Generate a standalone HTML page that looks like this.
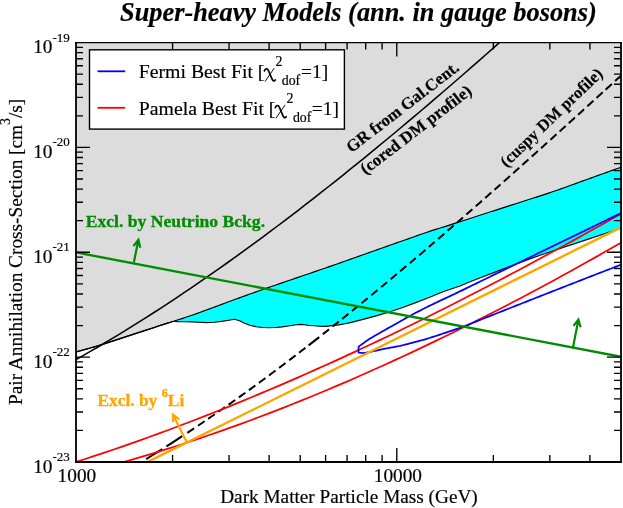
<!DOCTYPE html>
<html><head><meta charset="utf-8"><title>Super-heavy Models</title>
<style>
html,body{margin:0;padding:0;background:#fff;}
body{width:623px;height:508px;overflow:hidden;font-family:"Liberation Serif",serif;}
svg{display:block;will-change:transform;opacity:0.9999;}
.s{font-family:"Liberation Serif",serif;}
.t{stroke:#000;stroke-width:0.18px;}
</style></head><body>
<svg width="623" height="508" viewBox="0 0 623 508">
<rect width="623" height="508" fill="#fff"/>
<defs><clipPath id="c"><rect x="76.0" y="42.5" width="545.0" height="419.5"/></clipPath></defs>
<g clip-path="url(#c)">
<path d="M76.00,42.50 L621.00,42.50 L622.00,166.85 L618.94,167.94 L615.89,169.04 L612.83,170.15 L609.78,171.25 L606.72,172.35 L603.66,173.45 L600.61,174.55 L597.55,175.65 L594.50,176.74 L591.44,177.84 L588.39,178.94 L585.33,180.04 L582.27,181.15 L579.22,182.26 L576.16,183.36 L573.11,184.47 L570.05,185.57 L566.99,186.67 L563.94,187.76 L560.88,188.85 L557.83,189.92 L554.77,190.99 L551.72,192.05 L548.66,193.09 L545.60,194.11 L542.55,195.12 L539.49,196.10 L536.44,197.08 L533.38,198.05 L530.32,199.02 L527.27,199.99 L524.21,200.97 L521.16,201.96 L518.10,202.94 L515.04,203.93 L511.99,204.92 L508.93,205.90 L505.88,206.89 L502.82,207.88 L499.77,208.86 L496.71,209.85 L493.65,210.83 L490.60,211.82 L487.54,212.80 L484.49,213.79 L481.43,214.78 L478.37,215.76 L475.32,216.75 L472.26,217.73 L469.21,218.72 L466.15,219.70 L463.09,220.69 L460.04,221.67 L456.98,222.66 L453.93,223.64 L450.87,224.62 L447.82,225.61 L444.76,226.58 L441.70,227.55 L438.65,228.47 L435.59,229.34 L432.54,230.35 L429.48,231.39 L426.42,232.45 L423.37,233.50 L420.31,234.57 L417.26,235.64 L414.20,236.71 L411.15,237.78 L408.09,238.86 L405.03,239.93 L401.98,241.01 L398.92,242.08 L395.87,243.16 L392.81,244.24 L389.75,245.32 L386.70,246.40 L383.64,247.48 L380.59,248.56 L377.53,249.64 L374.47,250.72 L371.42,251.80 L368.36,252.87 L365.31,253.95 L362.25,255.03 L359.20,256.11 L356.14,257.19 L353.08,258.28 L350.03,259.37 L346.97,260.46 L343.92,261.56 L340.86,262.64 L337.80,263.72 L334.75,264.79 L331.69,265.85 L328.64,266.91 L325.58,267.97 L322.53,269.01 L319.47,270.06 L316.41,271.11 L313.36,272.15 L310.30,273.20 L307.25,274.24 L304.19,275.28 L301.13,276.33 L298.08,277.37 L295.02,278.41 L291.97,279.45 L288.91,280.50 L285.85,281.54 L282.80,282.59 L279.74,283.63 L276.69,284.68 L273.63,285.74 L270.58,286.79 L267.52,287.85 L264.46,288.91 L261.41,289.98 L258.35,291.04 L255.30,292.12 L252.24,293.20 L249.18,294.29 L246.13,295.39 L243.07,296.49 L240.02,297.59 L236.96,298.71 L233.91,299.83 L230.85,300.95 L227.79,302.08 L224.74,303.22 L221.68,304.35 L218.63,305.49 L215.57,306.62 L212.51,307.75 L209.46,308.88 L206.40,310.01 L203.35,311.13 L200.29,312.24 L197.23,313.34 L194.18,314.43 L191.12,315.50 L188.07,316.55 L185.01,317.57 L181.96,318.58 L178.90,319.57 L175.84,320.54 L172.79,321.50 L169.73,322.45 L166.68,323.40 L163.62,324.35 L160.56,325.32 L157.51,326.32 L154.45,327.43 L151.40,328.44 L148.34,329.43 L145.28,330.42 L142.23,331.41 L139.17,332.40 L136.12,333.39 L133.06,334.37 L130.01,335.36 L126.95,336.35 L123.89,337.34 L120.84,338.33 L117.78,339.33 L114.73,340.34 L111.67,341.36 L108.61,342.38 L105.56,343.39 L102.50,344.37 L99.45,345.32 L96.39,346.24 L93.34,347.13 L90.28,348.00 L87.22,348.85 L84.17,349.70 L81.11,350.55 L78.06,351.40 L75.00,352.30 Z" fill="#dcdcdc"/>
<path d="M173.60,321.25 L175.84,320.54 L178.90,319.57 L181.96,318.58 L185.01,317.57 L188.07,316.55 L191.12,315.50 L194.18,314.43 L197.23,313.34 L200.29,312.24 L203.35,311.13 L206.40,310.01 L209.46,308.88 L212.51,307.75 L215.57,306.62 L218.63,305.49 L221.68,304.35 L224.74,303.22 L227.79,302.08 L230.85,300.95 L233.91,299.83 L236.96,298.71 L240.02,297.59 L243.07,296.49 L246.13,295.39 L249.18,294.29 L252.24,293.20 L255.30,292.12 L258.35,291.04 L261.41,289.98 L264.46,288.91 L267.52,287.85 L270.58,286.79 L273.63,285.74 L276.69,284.68 L279.74,283.63 L282.80,282.59 L285.85,281.54 L288.91,280.50 L291.97,279.45 L295.02,278.41 L298.08,277.37 L301.13,276.33 L304.19,275.28 L307.25,274.24 L310.30,273.20 L313.36,272.15 L316.41,271.11 L319.47,270.06 L322.53,269.01 L325.58,267.97 L328.64,266.91 L331.69,265.85 L334.75,264.79 L337.80,263.72 L340.86,262.64 L343.92,261.56 L346.97,260.46 L350.03,259.37 L353.08,258.28 L356.14,257.19 L359.20,256.11 L362.25,255.03 L365.31,253.95 L368.36,252.87 L371.42,251.80 L374.47,250.72 L377.53,249.64 L380.59,248.56 L383.64,247.48 L386.70,246.40 L389.75,245.32 L392.81,244.24 L395.87,243.16 L398.92,242.08 L401.98,241.01 L405.03,239.93 L408.09,238.86 L411.15,237.78 L414.20,236.71 L417.26,235.64 L420.31,234.57 L423.37,233.50 L426.42,232.45 L429.48,231.39 L432.54,230.35 L435.59,229.34 L438.65,228.47 L441.70,227.55 L444.76,226.58 L447.82,225.61 L450.87,224.62 L453.93,223.64 L456.98,222.66 L460.04,221.67 L463.09,220.69 L466.15,219.70 L469.21,218.72 L472.26,217.73 L475.32,216.75 L478.37,215.76 L481.43,214.78 L484.49,213.79 L487.54,212.80 L490.60,211.82 L493.65,210.83 L496.71,209.85 L499.77,208.86 L502.82,207.88 L505.88,206.89 L508.93,205.90 L511.99,204.92 L515.04,203.93 L518.10,202.94 L521.16,201.96 L524.21,200.97 L527.27,199.99 L530.32,199.02 L533.38,198.05 L536.44,197.08 L539.49,196.10 L542.55,195.12 L545.60,194.11 L548.66,193.09 L551.72,192.05 L554.77,190.99 L557.83,189.92 L560.88,188.85 L563.94,187.76 L566.99,186.67 L570.05,185.57 L573.11,184.47 L576.16,183.36 L579.22,182.26 L582.27,181.15 L585.33,180.04 L588.39,178.94 L591.44,177.84 L594.50,176.74 L597.55,175.65 L600.61,174.55 L603.66,173.45 L606.72,172.35 L609.78,171.25 L612.83,170.15 L615.89,169.04 L618.94,167.94 L622.00,166.85 L621.00,228.20 L587.50,239.40 L558.60,249.00 L543.00,254.30 L529.70,258.90 L500.80,269.90 L471.90,281.00 L460.00,286.00 L443.00,291.80 L428.40,297.80 L415.00,302.90 L402.70,307.50 L390.00,311.80 L377.00,315.60 L364.00,319.10 L351.40,322.40 L345.00,323.70 L338.50,324.90 L332.00,325.60 L325.70,326.40 L320.00,326.20 L314.00,325.80 L308.90,325.50 L304.50,324.80 L300.00,324.40 L294.50,325.00 L288.40,326.00 L282.00,326.90 L275.60,327.50 L269.00,327.70 L262.70,327.50 L256.00,326.70 L249.90,325.20 L244.50,323.20 L239.60,320.80 L234.50,319.30 L229.00,320.20 L221.60,321.40 L214.00,322.20 L206.20,322.60 L199.00,322.30 L192.00,321.90 L185.70,321.70 L178.00,321.60 L173.60,321.25 Z" fill="#00ffff"/>
<path d="M75.00,352.30 L78.06,351.40 L81.11,350.55 L84.17,349.70 L87.22,348.85 L90.28,348.00 L93.34,347.13 L96.39,346.24 L99.45,345.32 L102.50,344.37 L105.56,343.39 L108.61,342.38 L111.67,341.36 L114.73,340.34 L117.78,339.33 L120.84,338.33 L123.89,337.34 L126.95,336.35 L130.01,335.36 L133.06,334.37 L136.12,333.39 L139.17,332.40 L142.23,331.41 L145.28,330.42 L148.34,329.43 L151.40,328.44 L154.45,327.43 L157.51,326.32 L160.56,325.32 L163.62,324.35 L166.68,323.40 L169.73,322.45 L172.79,321.50 L175.84,320.54 L178.90,319.57 L181.96,318.58 L185.01,317.57 L188.07,316.55 L191.12,315.50 L194.18,314.43 L197.23,313.34 L200.29,312.24 L203.35,311.13 L206.40,310.01 L209.46,308.88 L212.51,307.75 L215.57,306.62 L218.63,305.49 L221.68,304.35 L224.74,303.22 L227.79,302.08 L230.85,300.95 L233.91,299.83 L236.96,298.71 L240.02,297.59 L243.07,296.49 L246.13,295.39 L249.18,294.29 L252.24,293.20 L255.30,292.12 L258.35,291.04 L261.41,289.98 L264.46,288.91 L267.52,287.85 L270.58,286.79 L273.63,285.74 L276.69,284.68 L279.74,283.63 L282.80,282.59 L285.85,281.54 L288.91,280.50 L291.97,279.45 L295.02,278.41 L298.08,277.37 L301.13,276.33 L304.19,275.28 L307.25,274.24 L310.30,273.20 L313.36,272.15 L316.41,271.11 L319.47,270.06 L322.53,269.01 L325.58,267.97 L328.64,266.91 L331.69,265.85 L334.75,264.79 L337.80,263.72 L340.86,262.64 L343.92,261.56 L346.97,260.46 L350.03,259.37 L353.08,258.28 L356.14,257.19 L359.20,256.11 L362.25,255.03 L365.31,253.95 L368.36,252.87 L371.42,251.80 L374.47,250.72 L377.53,249.64 L380.59,248.56 L383.64,247.48 L386.70,246.40 L389.75,245.32 L392.81,244.24 L395.87,243.16 L398.92,242.08 L401.98,241.01 L405.03,239.93 L408.09,238.86 L411.15,237.78 L414.20,236.71 L417.26,235.64 L420.31,234.57 L423.37,233.50 L426.42,232.45 L429.48,231.39 L432.54,230.35 L435.59,229.34 L438.65,228.47 L441.70,227.55 L444.76,226.58 L447.82,225.61 L450.87,224.62 L453.93,223.64 L456.98,222.66 L460.04,221.67 L463.09,220.69 L466.15,219.70 L469.21,218.72 L472.26,217.73 L475.32,216.75 L478.37,215.76 L481.43,214.78 L484.49,213.79 L487.54,212.80 L490.60,211.82 L493.65,210.83 L496.71,209.85 L499.77,208.86 L502.82,207.88 L505.88,206.89 L508.93,205.90 L511.99,204.92 L515.04,203.93 L518.10,202.94 L521.16,201.96 L524.21,200.97 L527.27,199.99 L530.32,199.02 L533.38,198.05 L536.44,197.08 L539.49,196.10 L542.55,195.12 L545.60,194.11 L548.66,193.09 L551.72,192.05 L554.77,190.99 L557.83,189.92 L560.88,188.85 L563.94,187.76 L566.99,186.67 L570.05,185.57 L573.11,184.47 L576.16,183.36 L579.22,182.26 L582.27,181.15 L585.33,180.04 L588.39,178.94 L591.44,177.84 L594.50,176.74 L597.55,175.65 L600.61,174.55 L603.66,173.45 L606.72,172.35 L609.78,171.25 L612.83,170.15 L615.89,169.04 L618.94,167.94 L622.00,166.85" fill="none" stroke="#000" stroke-width="1.15"/>
<path d="M173.60,321.25 L178.00,321.60 L185.70,321.70 L192.00,321.90 L199.00,322.30 L206.20,322.60 L214.00,322.20 L221.60,321.40 L229.00,320.20 L234.50,319.30 L239.60,320.80 L244.50,323.20 L249.90,325.20 L256.00,326.70 L262.70,327.50 L269.00,327.70 L275.60,327.50 L282.00,326.90 L288.40,326.00 L294.50,325.00 L300.00,324.40 L304.50,324.80 L308.90,325.50 L314.00,325.80 L320.00,326.20 L325.70,326.40 L332.00,325.60 L338.50,324.90 L345.00,323.70 L351.40,322.40 L364.00,319.10 L377.00,315.60 L390.00,311.80 L402.70,307.50 L415.00,302.90 L428.40,297.80 L443.00,291.80 L460.00,286.00 L471.90,281.00 L500.80,269.90 L529.70,258.90 L543.00,254.30 L558.60,249.00 L587.50,239.40 L621.00,228.20" fill="none" stroke="#000" stroke-width="1.15" stroke-linejoin="round"/>
<path d="M75.00,360.16 L82.22,356.08 L89.44,351.94 L96.66,347.75 L103.88,343.50 L111.10,339.20 L118.32,334.84 L125.54,330.42 L132.76,325.95 L139.98,321.43 L147.20,316.86 L154.42,312.23 L161.64,307.55 L168.86,302.83 L176.08,298.05 L183.31,293.22 L190.53,288.34 L197.75,283.42 L204.97,278.45 L212.19,273.43 L219.41,268.37 L226.63,263.25 L233.85,258.10 L241.07,252.90 L248.29,247.65 L255.51,242.37 L262.73,237.04 L269.95,231.66 L277.17,226.25 L284.39,220.80 L291.61,215.30 L298.83,209.77 L306.05,204.19 L313.27,198.58 L320.49,192.93 L327.71,187.25 L334.93,181.52 L342.15,175.77 L349.37,169.97 L356.59,164.14 L363.81,158.28 L371.03,152.38 L378.25,146.45 L385.47,140.49 L392.69,134.50 L399.92,128.48 L407.14,122.42 L414.36,116.34 L421.58,110.22 L428.80,104.08 L436.02,97.91 L443.24,91.72 L450.46,85.49 L457.68,79.24 L464.90,72.97 L472.12,66.67 L479.34,60.34 L486.56,54.00 L493.78,47.63 L501.00,41.23" fill="none" stroke="#000" stroke-width="1.55"/>
<path d="M75.00,352.30 L78.06,351.40 L81.11,350.55 L84.17,349.70 L87.22,348.85 L90.28,348.00 L93.34,347.13 L96.39,346.24 L99.45,345.32 L102.50,344.37 L105.56,343.39 L108.61,342.38 L111.67,341.36 L114.73,340.34 L117.78,339.33 L120.84,338.33 L123.89,337.34 L126.95,336.35 L130.01,335.36 L133.06,334.37 L136.12,333.39 L139.17,332.40 L142.23,331.41 L145.28,330.42 L148.34,329.43 L151.40,328.44 L154.45,327.43 L157.51,326.32 L160.56,325.32 L163.62,324.35 L166.68,323.40 L169.73,322.45 L172.79,321.50" fill="none" stroke="#000" stroke-width="1.2"/>
<path d="M146.20,459.08 L151.57,455.76 L156.93,452.42 L162.30,449.04 M166.40,446.43 L171.67,443.06 L176.93,439.65 L182.20,436.21 M187.30,432.86 L189.57,431.36 L191.83,429.85 L194.10,428.34 M198.00,425.72 L200.20,424.24 L202.40,422.75 L204.60,421.26 M208.20,418.81 L210.40,417.30 L212.60,415.79 L214.80,414.28 M218.40,411.79 L220.60,410.26 L222.80,408.72 L225.00,407.19 M228.60,404.66 L230.80,403.11 L233.00,401.55 L235.20,399.99 M238.80,397.43 L241.00,395.85 L243.20,394.27 L245.40,392.69 M248.90,390.17 L251.07,388.60 L253.23,387.02 L255.40,385.44 M258.90,382.88 L261.07,381.29 L263.23,379.70 L265.40,378.10 M269.00,375.43 L271.17,373.82 L273.33,372.21 L275.50,370.59 M279.10,367.89 L281.23,366.29 L283.37,364.68 L285.50,363.07 M289.20,360.26 L291.33,358.64 L293.47,357.01 L295.60,355.38 M299.10,352.70 L301.20,351.08 L303.30,349.46 L305.40,347.84 M308.60,345.36 L312.13,342.62 L315.67,339.86 L319.20,337.09 M322.80,334.27 L324.87,332.64 L326.93,331.01 L329.00,329.37 M332.60,326.52 L334.67,324.87 L336.73,323.23 L338.80,321.58 M342.20,318.85 L344.27,317.20 L346.33,315.53 L348.40,313.87 M351.90,311.04 L353.97,309.37 L356.03,307.70 L358.10,306.02 M361.50,303.25 L363.57,301.57 L365.63,299.88 L367.70,298.18 M371.30,295.23 L373.37,293.53 L375.43,291.83 L377.50,290.12 M381.20,287.06 L383.17,285.43 L385.13,283.80 L387.10,282.17 M390.70,279.17 L392.73,277.47 L394.77,275.77 L396.80,274.07 M400.10,271.30 L402.17,269.57 L404.23,267.83 L406.30,266.08 M409.80,263.13 L411.80,261.44 L413.80,259.74 L415.80,258.05 M419.20,255.16 L421.27,253.40 L423.33,251.64 L425.40,249.88 M428.90,246.88 L430.83,245.23 L432.77,243.57 L434.70,241.91 M438.20,238.90 L440.23,237.15 L442.27,235.40 L444.30,233.65 M447.60,230.79 L449.63,229.03 L451.67,227.27 L453.70,225.51 M457.00,222.64 L459.00,220.90 L461.00,219.16 L463.00,217.42 M466.30,214.54 L468.33,212.76 L470.37,210.98 L472.40,209.20 M475.70,206.31 L477.77,204.49 L479.83,202.68 L481.90,200.86 M485.20,197.95 L487.23,196.16 L489.27,194.36 L491.30,192.57 M494.50,189.74 L496.50,187.97 L498.50,186.20 L500.50,184.42 M503.80,181.49 L505.83,179.69 L507.87,177.88 L509.90,176.07 M513.20,173.13 L515.23,171.32 L517.27,169.50 L519.30,167.69 M522.40,164.92 L524.43,163.10 L526.47,161.28 L528.50,159.46 M531.70,156.59 L533.73,154.76 L535.77,152.94 L537.80,151.11 M541.00,148.23 L543.03,146.40 L545.07,144.57 L547.10,142.74 M550.40,139.77 L552.43,137.93 L554.47,136.10 L556.50,134.26 M559.60,131.46 L561.63,129.62 L563.67,127.79 L565.70,125.95 M568.80,123.14 L570.83,121.30 L572.87,119.45 L574.90,117.61 M578.10,114.71 L580.07,112.92 L582.03,111.14 L584.00,109.35 M587.30,106.35 L589.37,104.47 L591.43,102.59 L593.50,100.71 M596.50,97.98 L598.57,96.10 L600.63,94.22 L602.70,92.34 M605.60,89.70 L607.67,87.81 L609.73,85.93 L611.80,84.04 M615.10,81.03 L617.23,79.09 L619.37,77.14 L621.50,75.20" fill="none" stroke="#000" stroke-width="2"/>
<path d="M76.00,461.94 L85.24,458.96 L94.47,455.94 L103.71,452.86 L112.95,449.74 L122.19,446.56 L131.42,443.34 L140.66,440.07 L149.90,436.76 L159.14,433.40 L168.37,429.99 L177.61,426.53 L186.85,423.03 L196.08,419.48 L205.32,415.89 L214.56,412.25 L223.80,408.57 L233.03,404.85 L242.27,401.08 L251.51,397.27 L260.75,393.42 L269.98,389.52 L279.22,385.58 L288.46,381.60 L297.69,377.58 L306.93,373.52 L316.17,369.42 L325.41,365.27 L334.64,361.09 L343.88,356.87 L353.12,352.61 L362.36,348.31 L371.59,343.97 L380.83,339.60 L390.07,335.18 L399.31,330.73 L408.54,326.24 L417.78,321.72 L427.02,317.16 L436.25,312.57 L445.49,307.94 L454.73,303.27 L463.97,298.57 L473.20,293.84 L482.44,289.07 L491.68,284.27 L500.92,279.43 L510.15,274.57 L519.39,269.67 L528.63,264.74 L537.86,259.78 L547.10,254.78 L556.34,249.76 L565.58,244.70 L574.81,239.62 L584.05,234.51 L593.29,229.36 L602.53,224.19 L611.76,218.99 L621.00,213.76" fill="none" stroke="#ff0000" stroke-width="1.75"/>
<path d="M124.50,461.85 L132.92,459.41 L141.33,456.93 L149.75,454.39 L158.16,451.81 L166.58,449.17 L174.99,446.49 L183.41,443.76 L191.82,440.98 L200.24,438.15 L208.65,435.28 L217.07,432.35 L225.48,429.39 L233.90,426.37 L242.31,423.31 L250.73,420.20 L259.14,417.05 L267.56,413.85 L275.97,410.61 L284.39,407.32 L292.81,403.99 L301.22,400.62 L309.64,397.20 L318.05,393.73 L326.47,390.23 L334.88,386.68 L343.30,383.09 L351.71,379.46 L360.13,375.78 L368.54,372.06 L376.96,368.31 L385.37,364.51 L393.79,360.67 L402.20,356.79 L410.62,352.87 L419.03,348.91 L427.45,344.91 L435.86,340.87 L444.28,336.79 L452.69,332.68 L461.11,328.52 L469.53,324.33 L477.94,320.10 L486.36,315.84 L494.77,311.53 L503.19,307.19 L511.60,302.82 L520.02,298.40 L528.43,293.96 L536.85,289.47 L545.26,284.95 L553.68,280.40 L562.09,275.81 L570.51,271.19 L578.92,266.53 L587.34,261.84 L595.75,257.12 L604.17,252.36 L612.58,247.57 L621.00,242.75" fill="none" stroke="#ff0000" stroke-width="1.75"/>
<path d="M621.00,213.08 L619.88,213.62 L618.40,214.34 L616.64,215.19 L614.68,216.14 L612.60,217.15 L610.50,218.16 L608.45,219.16 L606.55,220.08 L604.74,220.95 L602.93,221.83 L601.12,222.71 L599.32,223.58 L597.51,224.46 L595.70,225.33 L593.90,226.21 L592.09,227.09 L590.28,227.96 L588.48,228.84 L586.67,229.72 L584.86,230.59 L583.06,231.47 L581.25,232.35 L579.44,233.22 L577.64,234.10 L575.83,234.98 L574.02,235.85 L572.22,236.73 L570.41,237.61 L568.60,238.49 L566.80,239.36 L564.99,240.24 L563.18,241.12 L561.38,242.00 L559.57,242.87 L557.76,243.75 L555.95,244.63 L554.15,245.51 L552.34,246.38 L550.53,247.26 L548.73,248.14 L546.92,249.02 L545.11,249.90 L543.31,250.78 L541.50,251.65 L539.69,252.53 L537.89,253.41 L536.08,254.29 L534.27,255.17 L532.47,256.05 L530.66,256.93 L528.85,257.81 L527.05,258.69 L525.24,259.57 L523.43,260.45 L521.62,261.32 L519.82,262.20 L518.01,263.08 L516.20,263.96 L514.40,264.84 L512.59,265.72 L510.78,266.60 L508.98,267.48 L507.17,268.36 L505.36,269.24 L503.56,270.12 L501.75,271.00 L499.94,271.88 L498.14,272.77 L496.33,273.65 L494.52,274.53 L492.72,275.41 L490.91,276.29 L489.10,277.17 L487.30,278.05 L485.49,278.93 L483.68,279.81 L481.88,280.69 L480.07,281.58 L478.26,282.46 L476.45,283.34 L474.70,284.20 L473.02,285.02 L471.37,285.84 L469.70,286.66 L467.97,287.50 L466.14,288.39 L464.17,289.35 L462.00,290.39 L459.56,291.56 L456.86,292.84 L453.99,294.19 L451.03,295.59 L448.06,296.99 L445.18,298.35 L442.46,299.63 L440.00,300.80 L437.82,301.84 L435.84,302.78 L434.02,303.64 L432.28,304.47 L430.58,305.29 L428.86,306.13 L427.05,307.02 L425.10,308.00 L423.00,309.07 L420.79,310.21 L418.52,311.39 L416.22,312.59 L413.92,313.81 L411.66,315.01 L409.47,316.18 L407.40,317.30 L405.44,318.37 L403.57,319.40 L401.76,320.42 L400.00,321.41 L398.26,322.40 L396.53,323.39 L394.78,324.39 L393.00,325.40 L391.16,326.45 L389.27,327.52 L387.35,328.62 L385.45,329.71 L383.58,330.78 L381.78,331.81 L380.08,332.79 L378.50,333.70 L377.04,334.54 L375.66,335.33 L374.37,336.07 L373.14,336.77 L371.99,337.44 L370.90,338.08 L369.88,338.70 L368.90,339.30 L367.97,339.90 L367.09,340.51 L366.26,341.09 L365.50,341.65 L364.81,342.16 L364.21,342.62 L363.70,343.00 L363.30,343.30 L358.60,346.60 L358.50,352.60 L364.10,353.10 L364.68,352.98 L365.43,352.84 L366.30,352.67 L367.30,352.48 L368.40,352.26 L369.58,352.02 L370.82,351.77 L372.10,351.50 L373.46,351.21 L374.92,350.88 L376.47,350.53 L378.09,350.17 L379.76,349.80 L381.47,349.42 L383.19,349.05 L384.90,348.70 L386.64,348.36 L388.45,348.03 L390.29,347.70 L392.15,347.37 L394.01,347.04 L395.85,346.71 L397.66,346.36 L399.40,346.00 L401.08,345.63 L402.72,345.24 L404.32,344.85 L405.90,344.45 L407.47,344.04 L409.03,343.63 L410.61,343.22 L412.20,342.80 L413.79,342.39 L415.37,341.97 L416.94,341.56 L418.52,341.14 L420.11,340.71 L421.73,340.27 L423.39,339.80 L425.10,339.30 L426.82,338.79 L428.52,338.27 L430.23,337.75 L431.98,337.20 L433.80,336.62 L435.73,336.00 L437.78,335.33 L440.00,334.60 L442.46,333.79 L445.18,332.89 L448.06,331.93 L451.03,330.93 L453.99,329.93 L456.86,328.94 L459.56,328.00 L462.00,327.13 L464.17,326.33 L466.14,325.57 L467.97,324.85 L469.70,324.14 L471.37,323.46 L473.02,322.77 L474.70,322.08 L476.45,321.37 L478.26,320.66 L480.07,319.94 L481.88,319.22 L483.68,318.50 L485.49,317.78 L487.30,317.07 L489.10,316.35 L490.91,315.63 L492.72,314.92 L494.52,314.20 L496.33,313.49 L498.14,312.77 L499.94,312.05 L501.75,311.34 L503.56,310.62 L505.36,309.91 L507.17,309.20 L508.98,308.48 L510.78,307.77 L512.59,307.05 L514.40,306.34 L516.20,305.63 L518.01,304.91 L519.82,304.20 L521.62,303.49 L523.43,302.78 L525.24,302.07 L527.05,301.35 L528.85,300.64 L530.66,299.93 L532.47,299.22 L534.27,298.51 L536.08,297.80 L537.89,297.09 L539.69,296.38 L541.50,295.67 L543.31,294.96 L545.11,294.25 L546.92,293.54 L548.73,292.84 L550.53,292.13 L552.34,291.42 L554.15,290.71 L555.95,290.00 L557.76,289.30 L559.57,288.59 L561.38,287.88 L563.18,287.18 L564.99,286.47 L566.80,285.77 L568.60,285.06 L570.41,284.35 L572.22,283.65 L574.02,282.94 L575.83,282.24 L577.64,281.54 L579.44,280.83 L581.25,280.13 L583.06,279.42 L584.86,278.72 L586.67,278.02 L588.48,277.31 L590.28,276.61 L592.09,275.91 L593.90,275.21 L595.70,274.51 L597.51,273.80 L599.32,273.10 L601.12,272.40 L602.93,271.70 L604.74,271.00 L606.55,270.30 L608.45,269.56 L610.50,268.77 L612.60,267.96 L614.68,267.15 L616.64,266.39 L618.40,265.71 L619.88,265.14 L621.00,264.71" fill="none" stroke="#0000ff" stroke-width="1.75" stroke-linejoin="round"/>
<path d="M147.70,461.90 L621.00,227.40" fill="none" stroke="#ffa500" stroke-width="2.35"/>
<path d="M76.00,252.40 L621.00,356.80" fill="none" stroke="#008b00" stroke-width="2.35"/>
</g>
<path d="M133.9,262.3 L138.4,239.7 M133.5,246.2 L138.4,239.7 L140.3,247.7" fill="none" stroke="#008b00" stroke-width="2.2" stroke-linejoin="miter"/>
<path d="M573.0,347.5 L578.4,319.6 M573.4,325.9 L578.4,319.6 L580.6,327.3" fill="none" stroke="#008b00" stroke-width="2.2" stroke-linejoin="miter"/>
<path d="M186.5,441.7 L173.0,414.7 M173.0,421.9 L173.0,414.7 L179.3,419.3" fill="none" stroke="#ffa500" stroke-width="2.2" stroke-linejoin="miter"/>
<path d="M75.05,42.65 H621.95" fill="none" stroke="#000" stroke-width="1.35"/>
<path d="M76.0,42.0 V462.95 M621.0,42.0 V462.95 M75.05,462.0 H621.95" fill="none" stroke="#000" stroke-width="1.8"/>
<path d="M172.57,462.0 v-7 M172.57,42.5 v7 M229.05,462.0 v-7 M229.05,42.5 v7 M269.13,462.0 v-7 M269.13,42.5 v7 M300.22,462.0 v-7 M300.22,42.5 v7 M325.62,462.0 v-7 M325.62,42.5 v7 M347.09,462.0 v-7 M347.09,42.5 v7 M365.70,462.0 v-7 M365.70,42.5 v7 M382.10,462.0 v-7 M382.10,42.5 v7 M396.78,462.0 v-14 M396.78,42.5 v14 M493.35,462.0 v-7 M493.35,42.5 v7 M549.83,462.0 v-7 M549.83,42.5 v7 M589.91,462.0 v-7 M589.91,42.5 v7 M76.0,430.43 h7 M621.0,430.43 h-7 M76.0,411.96 h7 M621.0,411.96 h-7 M76.0,398.86 h7 M621.0,398.86 h-7 M76.0,388.70 h7 M621.0,388.70 h-7 M76.0,380.39 h7 M621.0,380.39 h-7 M76.0,373.37 h7 M621.0,373.37 h-7 M76.0,367.29 h7 M621.0,367.29 h-7 M76.0,361.92 h7 M621.0,361.92 h-7 M76.0,357.12 h14 M621.0,357.12 h-14 M76.0,325.55 h7 M621.0,325.55 h-7 M76.0,307.09 h7 M621.0,307.09 h-7 M76.0,293.98 h7 M621.0,293.98 h-7 M76.0,283.82 h7 M621.0,283.82 h-7 M76.0,275.52 h7 M621.0,275.52 h-7 M76.0,268.50 h7 M621.0,268.50 h-7 M76.0,262.41 h7 M621.0,262.41 h-7 M76.0,257.05 h7 M621.0,257.05 h-7 M76.0,252.25 h14 M621.0,252.25 h-14 M76.0,220.68 h7 M621.0,220.68 h-7 M76.0,202.21 h7 M621.0,202.21 h-7 M76.0,189.11 h7 M621.0,189.11 h-7 M76.0,178.95 h7 M621.0,178.95 h-7 M76.0,170.64 h7 M621.0,170.64 h-7 M76.0,163.62 h7 M621.0,163.62 h-7 M76.0,157.54 h7 M621.0,157.54 h-7 M76.0,152.17 h7 M621.0,152.17 h-7 M76.0,147.38 h14 M621.0,147.38 h-14 M76.0,115.80 h7 M621.0,115.80 h-7 M76.0,97.34 h7 M621.0,97.34 h-7 M76.0,84.23 h7 M621.0,84.23 h-7 M76.0,74.07 h7 M621.0,74.07 h-7 M76.0,65.77 h7 M621.0,65.77 h-7 M76.0,58.75 h7 M621.0,58.75 h-7 M76.0,52.66 h7 M621.0,52.66 h-7 M76.0,47.30 h7 M621.0,47.30 h-7" fill="none" stroke="#000" stroke-width="1.35"/>
<rect x="89.5" y="49.8" width="254.9" height="79.3" fill="#fff" stroke="#000" stroke-width="1.4"/>
<path d="M97.5,71.3 H125.2" stroke="#0000ff" stroke-width="1.8"/>
<path d="M97.5,107.8 H125.2" stroke="#ff0000" stroke-width="1.8"/>
<text x="138.8" y="77.8" font-size="19.75" class="s t">Fermi Best Fit [</text>
<g transform="translate(264.1,77.8)" fill="none" stroke="#000" stroke-linecap="round"><path d="M0.3,-6.8 C0.8,-9.3 3.2,-9.9 4.3,-7.3 L8.0,1.4 C8.8,3.3 10.2,3.7 11.2,2.2" stroke-width="1.7"/><path d="M9.9,-9.3 L1.1,3.5" stroke-width="0.95"/></g>
<text x="275.6" y="65.9" font-size="13.8" class="s t">2</text>
<text x="281.8" y="85.0" font-size="13.8" class="s t">dof</text>
<text x="301.0" y="77.8" font-size="19.4" class="s t">=1]</text>
<text x="138.8" y="114.5" font-size="19.75" class="s t">Pamela Best Fit [</text>
<g transform="translate(275.0,114.5)" fill="none" stroke="#000" stroke-linecap="round"><path d="M0.3,-6.8 C0.8,-9.3 3.2,-9.9 4.3,-7.3 L8.0,1.4 C8.8,3.3 10.2,3.7 11.2,2.2" stroke-width="1.7"/><path d="M9.9,-9.3 L1.1,3.5" stroke-width="0.95"/></g>
<text x="286.5" y="102.6" font-size="13.8" class="s t">2</text>
<text x="292.9" y="121.7" font-size="13.8" class="s t">dof</text>
<text x="311.8" y="114.5" font-size="19.4" class="s t">=1]</text>
<text x="120.1" y="21.4" font-size="26.3" class="s t" font-weight="bold" font-style="italic" textLength="476.6" lengthAdjust="spacingAndGlyphs">Super-heavy Models (ann. in gauge bosons)</text>
<text x="220.2" y="502.6" font-size="19.3" class="s t" textLength="257.6" lengthAdjust="spacingAndGlyphs">Dark Matter Particle Mass (GeV)</text>
<text transform="translate(22.3,405) rotate(-90)" font-size="19.3" class="s t">Pair Annihilation Cross-Section [cm<tspan dy="-12" font-size="13.7">3</tspan><tspan dy="12">/s]</tspan></text>
<text x="57.6" y="481.9" font-size="19.3" class="s t">1000</text>
<text x="373.8" y="481.9" font-size="19.3" class="s t">10000</text>
<text x="33.2" y="472.6" font-size="19.3" class="s t">10<tspan dy="-11.6" font-size="13.0">-23</tspan></text>
<text x="33.2" y="367.7" font-size="19.3" class="s t">10<tspan dy="-11.6" font-size="13.0">-22</tspan></text>
<text x="33.2" y="262.9" font-size="19.3" class="s t">10<tspan dy="-11.6" font-size="13.0">-21</tspan></text>
<text x="33.2" y="158.0" font-size="19.3" class="s t">10<tspan dy="-11.6" font-size="13.0">-20</tspan></text>
<text x="33.2" y="53.1" font-size="19.3" class="s t">10<tspan dy="-11.6" font-size="13.0">-19</tspan></text>
<text x="85.7" y="226.8" font-size="17.6" class="s" font-weight="bold" fill="#008b00" stroke="#008b00" stroke-width="0.3">Excl. by Neutrino Bckg.</text>
<text x="97.4" y="406.4" font-size="17.4" class="s" font-weight="bold" fill="#ffa500" stroke="#ffa500" stroke-width="0.3">Excl. by <tspan dy="-9.4" font-size="12.3">6</tspan><tspan dy="9.4">Li</tspan></text>
<text transform="translate(351.5,153.2) rotate(-37.6)" font-size="16.75" class="s" stroke="#000" stroke-width="0.2" font-weight="bold">GR from Gal.Cent.</text>
<text transform="translate(365.6,175.1) rotate(-37.4)" font-size="16.85" class="s" stroke="#000" stroke-width="0.2" font-weight="bold">(cored DM profile)</text>
<text transform="translate(506.45,167.9) rotate(-43.7)" font-size="16.65" class="s" stroke="#000" stroke-width="0.15" font-weight="bold">(cuspy DM profile)</text>
</svg>
</body></html>
